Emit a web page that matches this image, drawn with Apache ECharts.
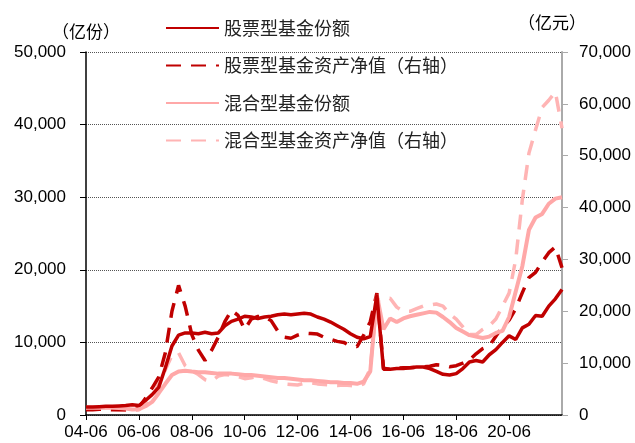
<!DOCTYPE html>
<html>
<head>
<meta charset="utf-8">
<script src="https://cdn.jsdelivr.net/npm/echarts@6/dist/echarts.min.js"></script>
<style>
  html, body { margin: 0; padding: 0; background: #ffffff; }
  #chart { width: 635px; height: 443px; }
</style>
</head>
<body>
<div id="chart"></div>
<script>
// Quarter-end categories, 04-06 through 22-06
const categories = [];
for (let y = 4; y <= 22; y++) {
  for (const m of ['03', '06', '09', '12']) {
    if (y === 4 && m === '03') continue;
    if (y === 22 && (m === '09' || m === '12')) continue;
    categories.push(String(y).padStart(2, '0') + '-' + m);
  }
}

// Series names
const seriesNames = ['股票型基金份额', '股票型基金资产净值（右轴）', '混合型基金份额', '混合型基金资产净值（右轴）'];

// 股票型基金份额 (亿份, left axis)
const stockShares = [
  1100, 1100, 1150, 1200, 1200, 1250, 1300, 1400, 1300,
  2000, 2800, 3800, 6500, 9500, 11000, 11300, 11300,
  11200, 11400, 11200, 11300, 12300, 12900, 13200, 13600,
  13500, 13300, 13500, 13600, 13800, 13900, 13800, 13900,
  14000, 13900, 13500, 13200, 12800, 12300, 11800, 11200,
  10700, 10500, 10800, 16500,
  6300, 6300, 6400, 6400, 6500, 6600, 6600, 6400,
  6000, 5600, 5500, 5700, 6400, 7300, 7500, 7300,
  8300, 9000, 10000, 10900, 10400, 12000, 12500, 13700, 13600, 15000, 16000, 17300
];

// 股票型基金资产净值 (亿元, right axis)
const stockNav = [
  1000, 1000, 1100, 1100, 1000, 1000, 1000, 1100, 1500,
  3200, 5200, 7300, 12000, 20000, 25000, 21000, 15500,
  12500, 10500, 12500, 15000, 18000, 20200, 19200, 16500,
  18500, 19000, 19000, 18200, 16200, 15000, 14800, 15400,
  15800, 15700, 15600, 15000, 14600, 14200, 14000, 13300,
  13200, 15400, 18000, 23500,
  9000, 8800, 9000, 9100, 9100, 9200, 9300, 9400,
  9700, 9600, 9300, 9500, 10000, 10600, 11800, 12800,
  13300, 15200, 17000, 18300, 20500, 23600, 26500, 27500, 29500, 31300, 32400, 28400
];

// 混合型基金份额 (亿份, left axis)
const mixShares = [
  1000, 1000, 1000, 1000, 1000, 950, 900, 750, 800,
  1200, 1800, 3000, 4300, 5500, 6000, 6100, 6000,
  5900, 5900, 5800, 5700, 5700, 5700, 5600, 5500,
  5500, 5400, 5300, 5200, 5100, 5100, 5000, 4900,
  4800, 4800, 4700, 4600, 4500, 4500, 4400, 4400,
  4300, 4600, 6000, 16500,
  11800, 13300, 12800, 13300, 13600, 13800, 14000, 14200,
  14100, 13500, 12800, 12000, 11500, 11000, 10800, 10600,
  10800, 11300, 11600, 13500, 17000, 20500, 25500, 27200, 27700, 29100, 29800, 30000
];

// 混合型基金资产净值 (亿元, right axis)
const mixNav = [
  1200, 1200, 1200, 1200, 1100, 1000, 900, 800, 1000,
  2000, 3500, 6000, 8700, 11500, 12000, 9500, 8500,
  7800, 6800, 6500, 7500, 7800, 7700, 7400, 7000,
  7200, 7400, 7000, 6600, 6300, 6000, 5900, 5800,
  6100, 6200, 6000, 5900, 5800, 5700, 5800, 5700,
  5500, 6000, 9000, 22000,
  22500, 22500, 20800, 20000, 20000, 20500, 21000, 21200,
  21400, 21000, 19500, 18500, 17000, 15500, 15500, 16500,
  17200, 18500, 21000, 23500, 30000, 41500, 50500, 55000, 59300, 60700, 62300, 55300
];

const DARK = '#C00000';
const PINK = '#FFA8A8';
const PINK_LIGHT = '#FFB4B4';
const LATIN = 'Liberation Sans, Arial, sans-serif';
const CJK = 'Noto Sans CJK SC, sans-serif';

const everyTwoYears = (idx) => idx % 8 === 0 && idx < 72;
const thousands = (v) => String(v).replace(/\B(?=(\d{3})+(?!\d))/g, ',');

const chart = echarts.init(document.getElementById('chart'), null, { renderer: 'canvas' });

chart.setOption({
  animation: false,
  backgroundColor: '#ffffff',
  grid: { left: 86, right: 73, top: 52, bottom: 28, containLabel: false },
  legend: {
    data: seriesNames,
    orient: 'vertical',
    left: 160,
    top: 14,
    itemWidth: 53,
    itemHeight: 14,
    itemGap: 19.5,
    // line-only legend icons (no point marker)
    itemStyle: { opacity: 0 },
    textStyle: { fontFamily: CJK, fontSize: 18, color: '#222' }
  },
  xAxis: {
    type: 'category',
    data: categories,
    boundaryGap: false,
    axisLine: { lineStyle: { color: '#000', width: 1.5 } },
    axisTick: { show: true, interval: everyTwoYears, length: 5, lineStyle: { color: '#000' } },
    axisLabel: { interval: everyTwoYears, fontFamily: LATIN, fontSize: 17, color: '#000', margin: 9 },
    splitLine: { show: false }
  },
  yAxis: [
    {
      type: 'value',
      min: 0,
      max: 50000,
      interval: 10000,
      name: '（亿份）',
      nameLocation: 'end',
      nameGap: 12,
      nameTextStyle: { fontFamily: CJK, fontSize: 17, color: '#000' },
      axisLine: { show: true, lineStyle: { color: '#000', width: 1.5 } },
      axisTick: { show: true, length: 6, lineStyle: { color: '#000' } },
      axisLabel: { fontFamily: LATIN, fontSize: 17, color: '#000', margin: 20, formatter: thousands },
      splitLine: { show: true, lineStyle: { color: '#555', type: 'dotted', width: 1 } }
    },
    {
      type: 'value',
      min: 0,
      max: 70000,
      interval: 10000,
      position: 'right',
      name: '（亿元）',
      nameLocation: 'end',
      nameGap: 21,
      nameTextStyle: { fontFamily: CJK, fontSize: 17, color: '#000', padding: [0, 20, 0, 0] },
      axisLine: { show: true, lineStyle: { color: '#aaaaaa', width: 2 } },
      axisTick: { show: true, length: 6, lineStyle: { color: '#aaaaaa' } },
      axisLabel: { fontFamily: LATIN, fontSize: 17, color: '#000', margin: 17, formatter: thousands },
      splitLine: { show: false }
    }
  ],
  series: [
    {
      name: seriesNames[0], type: 'line', yAxisIndex: 0, data: stockShares,
      symbol: 'none', z: 5,
      lineStyle: { color: DARK, width: 3.5 }, itemStyle: { color: DARK }
    },
    {
      name: seriesNames[1], type: 'line', yAxisIndex: 1, data: stockNav,
      symbol: 'none', z: 3,
      lineStyle: { color: DARK, width: 3.5, type: [15, 10] }, itemStyle: { color: DARK }
    },
    {
      name: seriesNames[2], type: 'line', yAxisIndex: 0, data: mixShares,
      symbol: 'none', z: 4,
      lineStyle: { color: PINK, width: 4 }, itemStyle: { color: PINK }
    },
    {
      name: seriesNames[3], type: 'line', yAxisIndex: 1, data: mixNav,
      symbol: 'none', z: 2,
      lineStyle: { color: PINK_LIGHT, width: 3.5, type: [15, 10] }, itemStyle: { color: PINK_LIGHT }
    }
  ]
});
</script>
</body>
</html>
